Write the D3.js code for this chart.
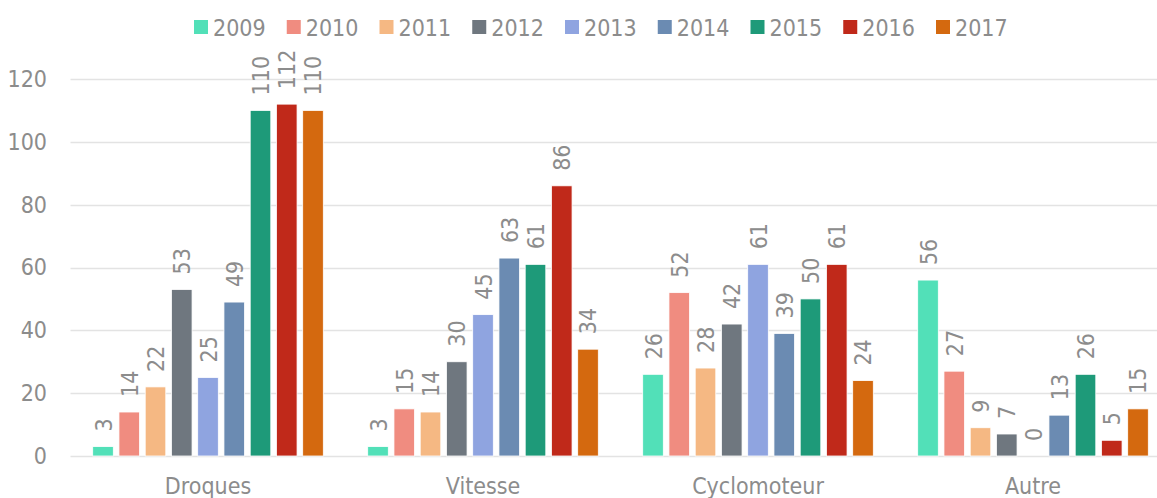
<!DOCTYPE html>
<html>
<head>
<meta charset="utf-8">
<script src="https://cdn.jsdelivr.net/npm/d3@7"></script>
<style>
  html, body { margin: 0; padding: 0; background: #fff; }
  svg { display: block; }
  text { font-family: "DejaVu Sans Condensed", "Liberation Sans", sans-serif; fill: #8c8c8c; }
</style>
</head>
<body>
<svg id="chart" width="1157" height="498"></svg>
<script>
const categories = ["Droques", "Vitesse", "Cyclomoteur", "Autre"];
const years = ["2009", "2010", "2011", "2012", "2013", "2014", "2015", "2016", "2017"];
const colors = ["#52e0b8", "#f08c80", "#f5b883", "#6f777f", "#8fa4e0", "#6b8bb2", "#1e9a79", "#c0291a", "#d4690f"];
const values2009 = [3, 3, 26, 56];
const values2010 = [14, 15, 52, 27];
const values2011 = [22, 14, 28, 9];
const values2012 = [53, 30, 42, 7];
const values2013 = [25, 45, 61, 0];
const values2014 = [49, 63, 39, 13];
const values2015 = [110, 61, 50, 26];
const values2016 = [112, 86, 61, 5];
const values2017 = [110, 34, 24, 15];
const yTicks = [0, 20, 40, 60, 80, 100, 120];

const series = [values2009, values2010, values2011, values2012, values2013, values2014, values2015, values2016, values2017];

const svg = d3.select("#chart");
const W = 1157, H = 498;
const plotLeft = 70.5, plotRight = 1170.5, plotTop = 79, plotBottom = 456;
const FS = "23px";
const FF = '"DejaVu Sans Condensed", "Liberation Sans", sans-serif';

const x0 = d3.scaleBand().domain(categories).range([plotLeft, plotRight]).padding(0);
const groupPad = 22.2;
const x1 = d3.scaleBand().domain(years)
  .range([groupPad, x0.bandwidth() - groupPad])
  .paddingInner(0.215).paddingOuter(0);
const y = d3.scaleLinear().domain([0, 120]).range([plotBottom, plotTop]);

// gridlines
svg.append("g").selectAll("line").data(yTicks).join("line")
  .attr("x1", plotLeft).attr("x2", W)
  .attr("y1", d => Math.round(y(d)) + 0.5).attr("y2", d => Math.round(y(d)) + 0.5)
  .attr("stroke", "#e3e3e3").attr("stroke-width", 1.5);

// y axis labels
const yAxis = d3.axisLeft(y).tickValues(yTicks).tickSize(0).tickPadding(0);
const ya = svg.append("g").attr("transform", `translate(47,0)`).call(yAxis);
ya.select(".domain").remove();
ya.selectAll("text").style("font-size", FS).attr("fill", "#8c8c8c").style("font-family", FF);

// bars
const groups = svg.append("g").selectAll("g").data(categories).join("g")
  .attr("transform", d => `translate(${x0(d)},0)`);

groups.each(function(cat, ci) {
  const g = d3.select(this);
  years.forEach((yr, si) => {
    const v = series[si][ci];
    g.append("rect")
      .attr("x", x1(yr)).attr("width", x1.bandwidth())
      .attr("y", y(v)).attr("height", y(0) - y(v))
      .attr("fill", colors[si])
      .attr("stroke", "#ffffff").attr("stroke-width", 0.8);
    const cx = x1(yr) + x1.bandwidth() / 2;
    g.append("text")
      .attr("transform", `translate(${cx + 8.5},${y(v) - 15}) rotate(-90)`)
      .attr("text-anchor", "start")
      .style("font-size", FS)
      .text(v);
  });
});

// category labels
const xAxis = d3.axisBottom(x0).tickSize(0).tickPadding(0);
const xa = svg.append("g").attr("transform", `translate(0,${plotBottom})`).call(xAxis);
xa.select(".domain").remove();
xa.selectAll("text").attr("dy", null).attr("y", 38).style("font-size", FS).attr("fill", "#8c8c8c").style("font-family", FF);

// legend
const legend = svg.append("g");
years.forEach((yr, i) => {
  const lx = 194 + i * 92.75;
  legend.append("rect").attr("x", lx).attr("y", 20).attr("width", 14).attr("height", 14).attr("fill", colors[i]);
  legend.append("text").attr("x", lx + 19).attr("y", 35.5).style("font-size", FS).text(yr);
});
</script>
</body>
</html>
